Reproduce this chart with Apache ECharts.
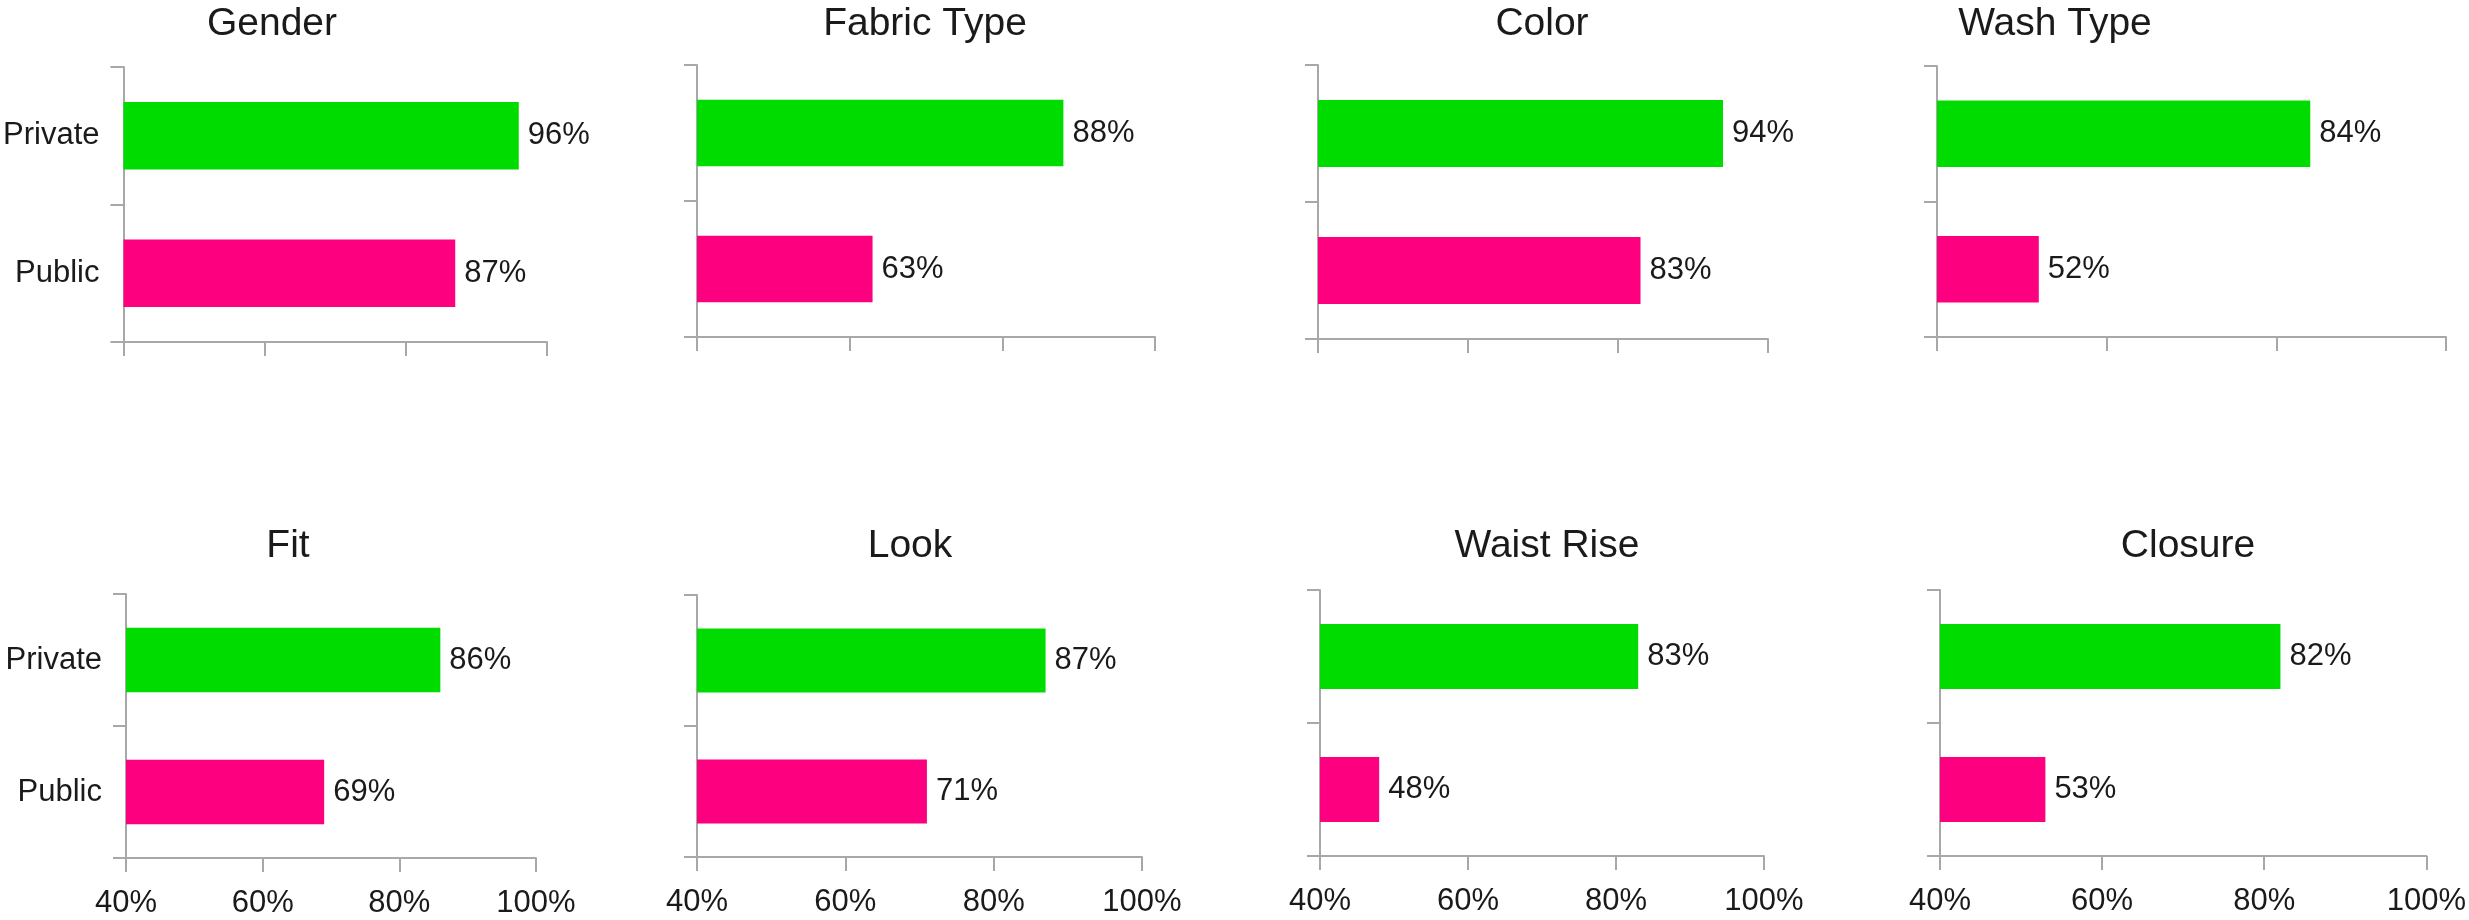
<!DOCTYPE html>
<html>
<head>
<meta charset="utf-8">
<title>Private vs Public</title>
<script src="https://cdn.jsdelivr.net/npm/echarts@6/dist/echarts.min.js"></script>
<style>
  html, body { margin: 0; padding: 0; background: #fff; }
  #main { width: 2469px; height: 920px; }
</style>
</head>
<body>
<div id="main"></div>
<script>
// data
const panels = ['Gender', 'Fabric Type', 'Color', 'Wash Type', 'Fit', 'Look', 'Waist Rise', 'Closure']
const groups = ['Private', 'Public']
const privateVals = [96, 88, 94, 84, 86, 87, 83, 82]
const publicVals = [87, 63, 83, 52, 69, 71, 48, 53]
const xMin = 40
const xMax = 100
const xStep = 20

// layout of each small plot, px: [left, right, top, bottom]
const boxes = [
  [120, 547, 67, 342],
  [697, 1155, 65, 337],
  [1318, 1768, 65, 339],
  [1937, 2446, 66, 337],
  [126, 536, 594, 858],
  [697, 1142, 595, 857],
  [1320, 1764, 590, 856],
  [1940, 2430, 590, 856]
]
const titleX = [272, 925, 1542, 2055, 288, 910, 1547, 2188]
const titleY = [5, 5, 5, 5, 527, 527, 527, 527]

const colors = ['#00dc00', '#fc0080']
const textColor = '#1a1a1a'
const axisColor = '#a8a8a8'
const font = 'Liberation Sans'

var myChart = echarts.init(document.getElementById('main'))

var titles = [], grids = [], xAxes = [], yAxes = [], series = []
panels.forEach((name, i) => {
  const b = boxes[i]
  const bottomRow = i >= 4
  const firstCol = i % 4 === 0
  titles.push({
    text: name,
    left: titleX[i],
    top: titleY[i],
    textAlign: 'center',
    padding: 0,
    textStyle: { fontFamily: font, fontSize: 39, fontWeight: 'normal', color: textColor }
  })
  grids.push({ left: b[0], top: b[2], width: b[1] - b[0], height: b[3] - b[2] })
  xAxes.push({
    type: 'value',
    gridIndex: i,
    min: xMin,
    max: xMax,
    interval: xStep,
    axisLine: { show: true, lineStyle: { color: axisColor, width: 2 } },
    axisTick: { show: true, length: 14, lineStyle: { color: axisColor, width: 2 } },
    splitLine: { show: false },
    axisLabel: {
      show: bottomRow,
      margin: 30,
      formatter: '{value}%',
      fontFamily: font,
      fontSize: 31,
      color: textColor
    }
  })
  yAxes.push({
    type: 'category',
    gridIndex: i,
    data: groups,
    inverse: true,
    axisLine: { show: true, lineStyle: { color: axisColor, width: 2 } },
    axisTick: { show: true, length: 13, lineStyle: { color: axisColor, width: 2 } },
    axisLabel: {
      show: firstCol,
      margin: 24,
      fontFamily: font,
      fontSize: 31,
      color: textColor
    }
  })
  series.push({
    type: 'bar',
    xAxisIndex: i,
    yAxisIndex: i,
    barWidth: '49%',
    data: [privateVals[i], publicVals[i]],
    itemStyle: {
      color: (p) => colors[p.dataIndex]
    },
    label: {
      show: true,
      position: 'right',
      distance: 9,
      formatter: '{c}%',
      fontFamily: font,
      fontSize: 31,
      color: textColor
    }
  })
})

myChart.setOption({
  animation: false,
  backgroundColor: '#fff',
  title: titles,
  grid: grids,
  xAxis: xAxes,
  yAxis: yAxes,
  series: series
})
</script>
</body>
</html>
